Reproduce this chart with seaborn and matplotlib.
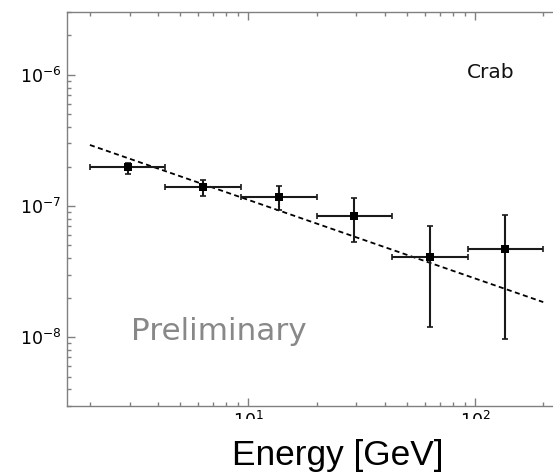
import matplotlib
matplotlib.use("Agg")
import matplotlib.pyplot as plt
import seaborn as sns
import numpy as np
import pandas as pd
from matplotlib.patches import Rectangle

# ---- data ----
energy = [2.94, 6.32, 13.6, 29.3, 63.2, 136.0]
energy_low = [2.0, 4.31, 9.28, 20.0, 43.1, 92.8]
energy_high = [4.31, 9.28, 20.0, 43.1, 92.8, 200.0]
flux = [1.98e-7, 1.39e-7, 1.17e-7, 8.39e-8, 4.09e-8, 4.71e-8]
flux_low = [1.76e-7, 1.19e-7, 9.27e-8, 5.27e-8, 1.20e-8, 9.6e-9]
flux_high = [2.13e-7, 1.57e-7, 1.41e-7, 1.16e-7, 7.0e-8, 8.5e-8]
fit_energy = [2.0, 200.0]
fit_flux = [2.92e-7, 1.85e-8]
source_label = "Crab"
watermark = "Preliminary"
x_label = "Energy [GeV]"

sns.set_style("white")
plt.rcParams["font.family"] = ["DejaVu Sans"]

df = pd.DataFrame({"E": energy, "F": flux})
fit_df = pd.DataFrame({"E": fit_energy, "F": fit_flux})

W, H = 553, 476
fig = plt.figure(figsize=(W / 100, H / 100), dpi=100)
ax = fig.add_axes([66.7 / W, 70.3 / H, 498.5 / W, 393.4 / H])

ax.set_xscale("log")
ax.set_yscale("log")

xerr = np.array([np.array(energy) - np.array(energy_low),
                 np.array(energy_high) - np.array(energy)])
yerr = np.array([np.array(flux) - np.array(flux_low),
                 np.array(flux_high) - np.array(flux)])
ax.errorbar(energy, flux, xerr=xerr, yerr=yerr, fmt="none",
            ecolor="#1a1a1a", elinewidth=1.5, capsize=2.3, capthick=1.2, zorder=3)

sns.lineplot(data=fit_df, x="E", y="F", ax=ax, color="black", lw=1.3,
             dashes=False, zorder=2)
ax.lines[-1].set_dashes((2.8, 1.9))

sns.scatterplot(data=df, x="E", y="F", ax=ax, marker="s", s=30,
                color="black", edgecolor="black", linewidth=0, zorder=4)

ax.set_xlim(1.58, 250)
ax.set_ylim(3.0e-9, 3.0e-6)
ax.set_xlabel("")
ax.set_ylabel("")

for side in ["left", "top", "bottom"]:
    ax.spines[side].set_color("#808080")
    ax.spines[side].set_linewidth(1.0)
ax.spines["right"].set_visible(False)

ax.tick_params(which="both", direction="in", top=True, bottom=True,
               left=True, right=False, color="#808080", width=1.0,
               labelsize=12.5, labelcolor="black")
ax.tick_params(which="major", length=6, pad=4)
ax.tick_params(which="minor", length=3)

ax.text(466.7 / W, (H - 77.7) / H, source_label, transform=fig.transFigure,
        fontsize=14.5, color="#111111", ha="left", va="baseline")
ax.text(131 / W, (H - 340) / H, watermark, transform=fig.transFigure,
        fontsize=22.4, color="#888888", ha="left", va="baseline")

# white band that hides the lower part of the x tick labels
fig.patches.append(Rectangle((0, 0), 1, (H - 419) / H, transform=fig.transFigure,
                             facecolor="white", edgecolor="none", zorder=10))
fig.text(337.5 / W, (H - 465) / H, x_label, fontsize=25.4,
         family=["Liberation Sans", "DejaVu Sans"], color="black",
         ha="center", va="baseline", zorder=11)

fig.savefig("out.png", dpi=100, facecolor="white")
